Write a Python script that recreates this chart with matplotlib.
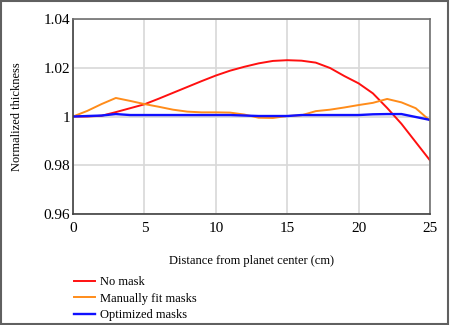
import matplotlib
matplotlib.use("Agg")
import matplotlib.pyplot as plt
from matplotlib.patches import Rectangle
from matplotlib.ticker import FuncFormatter

plt.rcParams['font.family'] = ['Liberation Serif', 'DejaVu Serif']

# Distance from planet center (cm)
distance = list(range(26))

# Normalized thickness
no_mask = [1.0, 1.0, 1.0003, 1.0018, 1.0034, 1.005, 1.0073, 1.0097, 1.0121, 1.0145,
           1.0168, 1.0188, 1.0204, 1.0218, 1.0228, 1.0231, 1.0229, 1.0221, 1.0199, 1.0166,
           1.0136, 1.0095, 1.0035, 0.997, 0.9895, 0.982]
manual_masks = [1.0, 1.0023, 1.0051, 1.0076, 1.0064, 1.0051, 1.004, 1.0028, 1.002, 1.0017,
                1.0017, 1.0016, 1.0008, 0.9995, 0.9994, 1.0002, 1.0005, 1.0022, 1.0028, 1.0037,
                1.0047, 1.0056, 1.0072, 1.0058, 1.0034, 0.9983]
optimized_masks = [1.0, 1.0002, 1.0004, 1.0010, 1.0006, 1.0006, 1.0006, 1.0006, 1.0006, 1.0006,
                   1.0006, 1.0006, 1.0004, 1.0002, 1.0002, 1.0002, 1.0006, 1.0006, 1.0006, 1.0006,
                   1.0006, 1.0009, 1.0010, 1.0010, 0.9998, 0.9986]

x_ticks = [0, 5, 10, 15, 20, 25]
y_ticks = [0.96, 0.98, 1.0, 1.02, 1.04]

fig = plt.figure(figsize=(4.5, 3.25), dpi=100)
ax = fig.add_axes([73 / 450, 1 - 214 / 325, 357 / 450, 195 / 325])

ax.plot(distance, no_mask, color='#ff1010', lw=1.4, label='No mask')
ax.plot(distance, manual_masks, color='#ff8c1a', lw=1.4, label='Manually fit masks')
ax.plot(distance, optimized_masks, color='#1010ff', lw=1.7, label='Optimized masks')

ax.set_xlim(0, 25)
ax.set_ylim(0.96, 1.04)
ax.set_xticks(x_ticks)
ax.set_yticks(y_ticks)
ax.yaxis.set_major_formatter(FuncFormatter(lambda v, p: f"{v:g}"))
ax.tick_params(length=0, labelsize=11)
ax.tick_params(axis='x', pad=6)
ax.tick_params(axis='y', pad=2)
ax.grid(True, color='#d8d8d8', lw=1.2)
ax.set_axisbelow(True)
for side in ['left', 'bottom']:
    ax.spines[side].set_color('#404040')
    ax.spines[side].set_linewidth(1.2)
for side in ['top', 'right']:
    ax.spines[side].set_color('#707070')
    ax.spines[side].set_linewidth(1.2)

ax.set_xlabel("Distance from planet center (cm)", fontsize=9, labelpad=14)
ax.set_ylabel("Normalized thickness", fontsize=9, labelpad=15)

fig.legend(loc='upper left', bbox_to_anchor=(0.153, 0.165), frameon=False,
           fontsize=9, handlelength=1.7, handletextpad=0.4, labelspacing=0.35,
           borderaxespad=0)

# outer frame
fig.patches.append(Rectangle((0.003, 0.004), 0.992, 0.992, transform=fig.transFigure,
                             fill=False, edgecolor='#606060', lw=1.5))

fig.savefig("out.png", dpi=100)
